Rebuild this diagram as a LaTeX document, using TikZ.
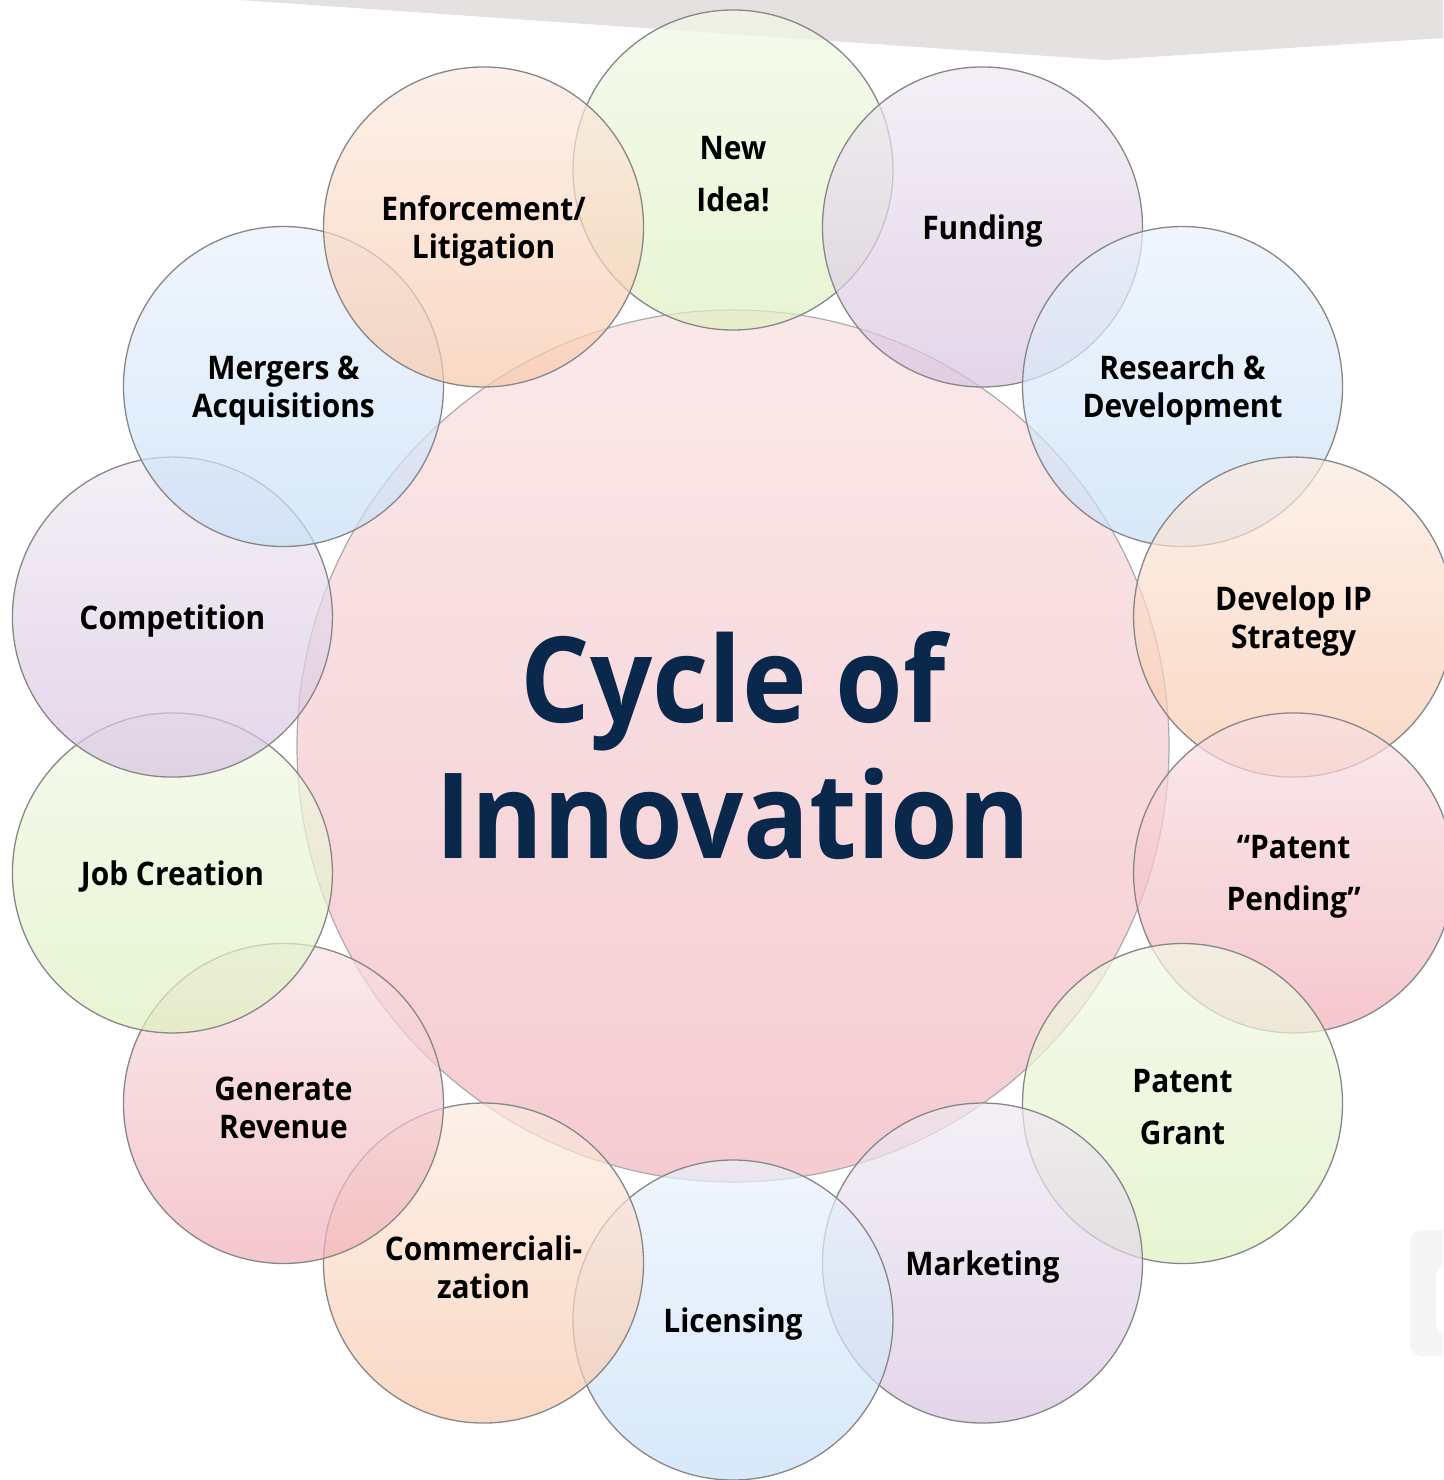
\documentclass[tikz,border=0pt]{standalone}
\usepackage{fontspec}
\usetikzlibrary{calc}
\setmainfont{Open Sans}[FakeStretch=0.92]
\definecolor{bandgray}{RGB}{230,225,225}
\definecolor{ringline}{RGB}{135,135,135}
\definecolor{navy}{RGB}{10,40,75}
\definecolor{greenT}{RGB}{242,249,231}
\definecolor{greenB}{RGB}{222,241,191}
\definecolor{purpleT}{RGB}{239,234,242}
\definecolor{purpleB}{RGB}{216,196,225}
\definecolor{blueT}{RGB}{234,242,252}
\definecolor{blueB}{RGB}{199,224,248}
\definecolor{peachT}{RGB}{252,235,225}
\definecolor{peachB}{RGB}{249,201,171}
\definecolor{pinkT}{RGB}{249,225,228}
\definecolor{pinkB}{RGB}{241,176,184}
\definecolor{centerT}{RGB}{249,224,226}
\definecolor{centerB}{RGB}{242,182,189}
\tikzset{
  ring/.style={draw=ringline, line width=1.3pt},
  lbl/.style={font=\bfseries\fontsize{32.5}{38}\selectfont, align=center, text=black, inner sep=0pt},
  lblwide/.style={font=\bfseries\fontsize{32.5}{52}\selectfont, align=center, text=black, inner sep=0pt},
  title/.style={font=\bfseries\fontsize{119}{136}\selectfont, align=center, text=navy, inner sep=0pt}
}
\begin{document}
\begin{tikzpicture}[x=1pt,y=-1pt]
\useasboundingbox (0,0) rectangle (1443,1480);
\fill[white] (0,0) rectangle (1443,1480);
% top grey band
\fill[bandgray] (240,0) -- (1105,60) -- (1443,38) -- (1443,0) -- cycle;
% faint rounded shape at bottom right
\begin{scope}
\clip (0,0) rectangle (1443,1480);
\fill[black!4, rounded corners=12pt] (1410,1230) rectangle (1470,1356);
\fill[white, rounded corners=10pt] (1436,1266) rectangle (1470,1333);
\end{scope}
% centre circle
\coordinate (C) at (733,746);
\shade[top color=centerT, bottom color=centerB, fill opacity=0.7] (C) circle (436);
\draw[draw=ringline!70, line width=1.2pt] (C) circle (436);
% outer circles
\foreach \i/\col in {0/green,1/purple,2/blue,3/peach,4/pink,5/green,6/purple,
                    7/blue,8/peach,9/pink,10/green,11/purple,12/blue,13/peach}{
  \pgfmathsetmacro{\ang}{\i*360/14-90}
  \coordinate (P\i) at ($(733,745)+(\ang:575)$);
  \shade[top color=\col T, bottom color=\col B, fill opacity=0.7] (P\i) circle (160);
  \draw[ring] (P\i) circle (160);
}
% labels
\node[lblwide] (newidea) at ($(P0)+(0,4)$) {New\\Idea!};
\node[lbl] (funding) at ($(P1)+(0,4)$) {Funding};
\node[lbl] (rnd) at ($(P2)+(0,4)$) {Research \&\\Development};
\node[lbl] (ipstrat) at ($(P3)+(0,4)$) {Develop IP\\Strategy};
\node[lblwide] (pending) at ($(P4)+(0,4)$) {“Patent\\Pending”};
\node[lblwide] (grant) at ($(P5)+(0,4)$) {Patent\\Grant};
\node[lbl] (marketing) at ($(P6)+(0,4)$) {Marketing};
\node[lbl] (licensing) at ($(P7)+(0,4)$) {Licensing};
\node[lbl] (commerce) at ($(P8)+(0,4)$) {Commerciali-\\zation};
\node[lbl] (revenue) at ($(P9)+(0,4)$) {Generate\\Revenue};
\node[lbl] (jobs) at ($(P10)+(0,4)$) {Job Creation};
\node[lbl] (competition) at ($(P11)+(0,4)$) {Competition};
\node[lbl] (mergers) at ($(P12)+(0,4)$) {Mergers \&\\Acquisitions};
\node[lbl] (enforce) at ($(P13)+(0,4)$) {Enforcement/\\Litigation};
\node[title] (cycle) at (733,746) {Cycle of\\Innovation};
\end{tikzpicture}
\end{document}
